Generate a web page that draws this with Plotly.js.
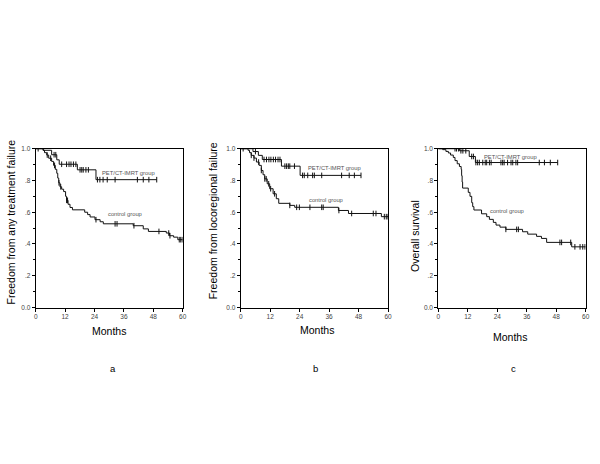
<!DOCTYPE html>
<html>
<head>
<meta charset="utf-8">
<script src="https://cdn.plot.ly/plotly-3.0.1.min.js"></script>
<style>html,body{margin:0;padding:0;background:#fff;}#chart{width:600px;height:464px;}</style>
</head>
<body>
<div id="chart"></div>
<script>
// ---------- data ----------
const monthTicks = [0, 12, 24, 36, 48, 60];
const survTickVals = [0, 0.2, 0.4, 0.6, 0.8, 1.0];
const survTickText = ["0.0", ".2", ".4", ".6", ".8", "1.0"];
const panelLetters = ["a", "b", "c"];
const yTitles = ["Freedom from any treatment failure", "Freedom from locoregional failure", "Overall survival"];
const xTitle = "Months";
const groupNames = ["PET/CT-IMRT group", "control group"];

// Panel a: freedom from any treatment failure
const aPetTimes = [0, 3.1, 6.5, 8.6, 9.6, 17, 24.6];
const aPetSurv  = [1.0, 0.99, 0.962, 0.93, 0.902, 0.867, 0.805];
const aPetEnd = 49.4;
const aPetCens = [1, 7.5, 8.2, 10.6, 12.6, 13.6, 14.4, 15.4, 16.4, 18.1, 18.8, 19.4, 20.5, 21.5, 25.2, 26.2, 27.5, 29.2, 32.4, 41.5, 43.9, 46.2, 49.4];
const aCtlTimes = [0, 3, 3.6, 4.5, 5.3, 6.5, 7.3, 8, 8.6, 9, 9.4, 9.9, 10.6, 11.4, 12.2, 12.6, 13.2, 14, 15, 20, 21.2, 22.2, 24.2, 26.3, 27.6, 39.8, 43.9, 46, 53.3, 54.6, 56.3, 58];
const aCtlSurv  = [1.0, 0.99, 0.975, 0.96, 0.94, 0.92, 0.895, 0.87, 0.845, 0.815, 0.785, 0.76, 0.745, 0.73, 0.70, 0.675, 0.65, 0.63, 0.615, 0.60, 0.585, 0.57, 0.553, 0.54, 0.527, 0.515, 0.495, 0.479, 0.469, 0.452, 0.443, 0.427];
const aCtlEnd = 60;
const aCtlCens = [4.7, 6.1, 7.7, 9.5, 10.2, 12.6, 13, 24.6, 32.4, 33.2, 40.1, 50.3, 54.3, 54.8, 58.6, 59.2, 59.8];

// Panel b: freedom from locoregional failure
const bPetTimes = [0, 5, 7.2, 8.8, 16.6, 24.2];
const bPetSurv  = [1.0, 0.982, 0.958, 0.932, 0.89, 0.832];
const bPetEnd = 49;
const bPetCens = [1, 6, 9.5, 10.5, 11.5, 12.3, 13.3, 14.2, 15.2, 16, 18, 18.7, 19.4, 20, 21.9, 25.2, 25.9, 27.3, 29.3, 30, 33, 41.1, 44.2, 46.3, 49];
const bCtlTimes = [0, 3, 3.6, 4.3, 5.4, 6.4, 7.5, 8.4, 9.1, 9.8, 10.8, 11.8, 13.2, 14.5, 15.5, 20, 22, 39.8, 43.9, 57.3];
const bCtlSurv  = [1.0, 0.99, 0.975, 0.958, 0.941, 0.916, 0.895, 0.863, 0.836, 0.81, 0.779, 0.748, 0.716, 0.685, 0.656, 0.643, 0.631, 0.611, 0.592, 0.572];
const bCtlEnd = 60;
const bCtlCens = [4.3, 5.4, 7.3, 8.4, 9.8, 10.4, 11.4, 12.2, 13.8, 20, 22.8, 23.9, 28.2, 33, 33.6, 40, 45.2, 54, 55.1, 58.5, 59.3, 60];

// Panel c: overall survival
const cPetTimes = [0, 8.6, 12.6, 15.1];
const cPetSurv  = [1.0, 0.987, 0.951, 0.913];
const cPetEnd = 48.6;
const cPetCens = [6.8, 7.4, 8.2, 9.2, 10, 11.2, 13.6, 14.3, 15.3, 16, 16.7, 18.1, 19.1, 19.7, 20.8, 21.5, 25.5, 26.2, 26.8, 28.2, 29.6, 30.3, 31.6, 32.3, 41.1, 43.2, 45.6, 48.6];
const cCtlTimes = [0, 1.8, 3.1, 4.1, 5, 6.1, 6.8, 7.7, 8.6, 9.3, 9.5, 9.7, 9.9, 12.2, 12.9, 13.6, 14, 14.5, 17.6, 19.7, 20.8, 22.4, 23.5, 25.1, 27.5, 34.3, 36.4, 40, 42, 44.1, 54.3];
const cCtlSurv  = [1.0, 0.994, 0.983, 0.973, 0.96, 0.945, 0.925, 0.905, 0.888, 0.87, 0.83, 0.79, 0.752, 0.725, 0.70, 0.66, 0.635, 0.614, 0.59, 0.572, 0.555, 0.536, 0.519, 0.506, 0.492, 0.477, 0.462, 0.448, 0.435, 0.41, 0.382];
const cCtlEnd = 60;
const cCtlCens = [27.5, 31.9, 32.6, 49.5, 50.2, 53.9, 55.6, 57.7, 58.8, 59.7];

// label positions in data coordinates [month, survival]
const petLabelPos = [[26.2, 0.845], [26.6, 0.88], [17.7, 0.949]];
const ctlLabelPos = [[28.7, 0.59], [26.9, 0.674], [20.1, 0.61]];

// ---------- build ----------
function survAt(t, times, surv) {
  let v = surv[0];
  for (let i = 0; i < times.length; i++) { if (times[i] <= t) v = surv[i]; }
  return v;
}
const panels = [
  {pet: [aPetTimes, aPetSurv, aPetEnd, aPetCens], ctl: [aCtlTimes, aCtlSurv, aCtlEnd, aCtlCens]},
  {pet: [bPetTimes, bPetSurv, bPetEnd, bPetCens], ctl: [bCtlTimes, bCtlSurv, bCtlEnd, bCtlCens]},
  {pet: [cPetTimes, cPetSurv, cPetEnd, cPetCens], ctl: [cCtlTimes, cCtlSurv, cCtlEnd, cCtlCens]}
];
const traces = [];
panels.forEach((p, i) => {
  const xa = i === 0 ? 'x' : 'x' + (i + 1);
  const ya = i === 0 ? 'y' : 'y' + (i + 1);
  [p.ctl, p.pet].forEach(g => {
    const [times, surv, end, cens] = g;
    traces.push({
      x: times.concat([end]), y: surv.concat([surv[surv.length - 1]]),
      xaxis: xa, yaxis: ya, mode: 'lines', line: {shape: 'hv', color: '#111', width: 1},
      hoverinfo: 'skip'
    });
    traces.push({
      x: cens, y: cens.map(t => survAt(t, times, surv)),
      xaxis: xa, yaxis: ya, mode: 'markers',
      marker: {symbol: 'line-ns-open', size: 4, color: '#111', line: {color: '#111', width: 1}},
      hoverinfo: 'skip'
    });
  });
});

const W = 600, H = 464;
const xDomains = [[35.7 / W, 182.7 / W], [240.7 / W, 388 / W], [438.3 / W, 585.7 / W]];
const yDomain = [1 - 307.5 / H, 1 - 148.7 / H];
const font = 'Liberation Sans, Arial, sans-serif';

const layout = {
  width: W, height: H, margin: {l: 0, r: 0, t: 0, b: 0},
  paper_bgcolor: '#fff', plot_bgcolor: '#fff', showlegend: false,
  font: {family: font, color: '#000'},
  annotations: []
};
const yTitlePos = [[10, 222.5], [213.3, 221], [415, 236]];
const xTitlePos = [[108.5, 331], [317, 330], [510, 337]];
const letterPos = [[113, 368], [315, 368], [513, 368]];
for (let i = 0; i < 3; i++) {
  const sfx = i === 0 ? '' : String(i + 1);
  layout['xaxis' + sfx] = {
    domain: xDomains[i], anchor: 'y' + sfx, range: [0, 60],
    tickvals: monthTicks, ticktext: monthTicks.map(String),
    showline: true, mirror: true, linecolor: '#000', linewidth: 1,
    ticks: 'outside', ticklen: 3, tickcolor: '#000', tickfont: {size: 6.5, color: '#444', family: font},
    showgrid: false, zeroline: false, fixedrange: true
  };
  layout['yaxis' + sfx] = {
    domain: yDomain, anchor: 'x' + sfx, range: [0, 1],
    tickvals: survTickVals, ticktext: survTickText,
    showline: true, mirror: true, linecolor: '#000', linewidth: 1,
    ticks: 'outside', ticklen: 3, tickcolor: '#000', tickfont: {size: 6.5, color: '#444', family: font},
    minor: {dtick: 0.1, ticks: 'outside', ticklen: 2, tickcolor: '#000'},
    showgrid: false, zeroline: false, fixedrange: true
  };
  layout.annotations.push({
    xref: 'paper', yref: 'paper', x: yTitlePos[i][0] / W, y: 1 - yTitlePos[i][1] / H,
    text: yTitles[i], textangle: -90, showarrow: false, xanchor: 'center', yanchor: 'middle',
    font: {size: 10.5, color: '#000', family: font}
  });
  layout.annotations.push({
    xref: 'paper', yref: 'paper', x: xTitlePos[i][0] / W, y: 1 - xTitlePos[i][1] / H,
    text: xTitle, showarrow: false, xanchor: 'center', yanchor: 'middle',
    font: {size: 10.5, color: '#000', family: font}
  });
  layout.annotations.push({
    xref: 'paper', yref: 'paper', x: letterPos[i][0] / W, y: 1 - letterPos[i][1] / H,
    text: panelLetters[i], showarrow: false, xanchor: 'center', yanchor: 'middle',
    font: {size: 9.5, color: '#000', family: font}
  });
  layout.annotations.push({
    xref: 'x' + sfx, yref: 'y' + sfx, x: petLabelPos[i][0], y: petLabelPos[i][1],
    text: groupNames[0], showarrow: false, xanchor: 'left', yanchor: 'middle',
    font: {size: 5.8, color: '#555', family: font}
  });
  layout.annotations.push({
    xref: 'x' + sfx, yref: 'y' + sfx, x: ctlLabelPos[i][0], y: ctlLabelPos[i][1],
    text: groupNames[1], showarrow: false, xanchor: 'left', yanchor: 'middle',
    font: {size: 5.8, color: '#555', family: font}
  });
}

Plotly.newPlot('chart', traces, layout, {displayModeBar: false, staticPlot: true});
</script>
</body>
</html>
